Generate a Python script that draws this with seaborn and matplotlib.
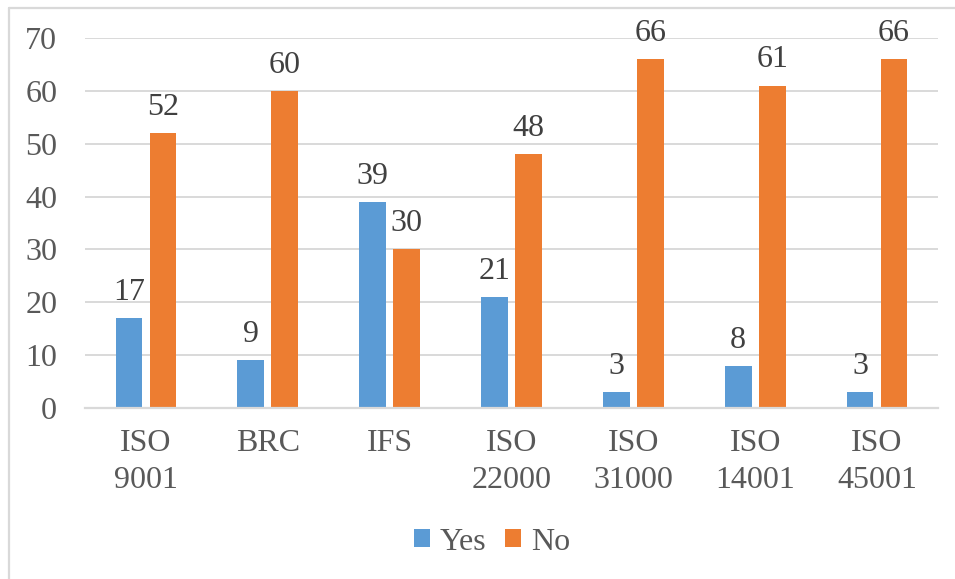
import matplotlib
matplotlib.use("Agg")
import matplotlib.pyplot as plt
from matplotlib.lines import Line2D
from matplotlib.patches import Patch
import seaborn as sns
import pandas as pd

categories = ["ISO\n9001", "BRC", "IFS", "ISO\n22000", "ISO\n31000", "ISO\n14001", "ISO\n45001"]
yes_values = [17, 9, 39, 21, 3, 8, 3]
no_values = [52, 60, 30, 48, 66, 61, 66]
series_names = ["Yes", "No"]
colors = ["#5B9BD5", "#ED7D31"]

df = pd.DataFrame({
    "category": categories * 2,
    "value": yes_values + no_values,
    "series": [series_names[0]] * len(categories) + [series_names[1]] * len(categories),
})

sns.set_theme(style="white")
plt.rcParams["font.family"] = ["Liberation Serif", "DejaVu Serif"]

text_gray = "#595959"
grid_gray = "#D9D9D9"
fs = 23

fig = plt.figure(figsize=(9.55, 5.79), dpi=100)
ax = fig.add_axes([85 / 955, 1 - 408 / 579, (938 - 85) / 955, (408 - 38) / 579])

sns.barplot(data=df, x="category", y="value", hue="series", order=categories,
            hue_order=series_names, palette=colors, width=0.557, gap=0.215,
            linewidth=0, saturation=1, ax=ax, legend=False)

ax.set_ylim(0, 70)
ax.set_xlim(-0.5, len(categories) - 0.5)
ax.set_yticks(range(0, 71, 10))
ax.yaxis.grid(True, color=grid_gray, linewidth=1.4)
ax.set_axisbelow(True)
for s in ["top", "right", "left"]:
    ax.spines[s].set_visible(False)
ax.spines["bottom"].set_color(grid_gray)
ax.spines["bottom"].set_linewidth(1.6)
ax.set_xlabel("")
ax.set_ylabel("")
ax.tick_params(axis="y", length=0, pad=20, labelsize=fs, labelcolor=text_gray)
ax.tick_params(axis="x", length=0, pad=15, labelsize=fs, labelcolor=text_gray)
for lab in ax.get_xticklabels():
    lab.set_linespacing(1.36)

for cont in ax.containers:
    ax.bar_label(cont, padding=8, fontsize=fs, color="#404040")

handles = [Patch(facecolor=c, edgecolor="none") for c in colors]
fig.legend(handles, series_names, loc="center", bbox_to_anchor=(492 / 955, 1 - 542 / 579),
           ncol=2, frameon=False, fontsize=fs, labelcolor=text_gray,
           handlelength=0.5, handleheight=0.5, handletextpad=0.3, columnspacing=0.6)

# chart border (only top and left visible in the reference crop)
fig.add_artist(Line2D([9 / 955, 9 / 955], [0, 1 - 8 / 579], transform=fig.transFigure,
                      color=grid_gray, linewidth=1.6))
fig.add_artist(Line2D([9 / 955, 1], [1 - 8 / 579, 1 - 8 / 579], transform=fig.transFigure,
                      color=grid_gray, linewidth=1.6))

fig.savefig("out.png", dpi=100)
